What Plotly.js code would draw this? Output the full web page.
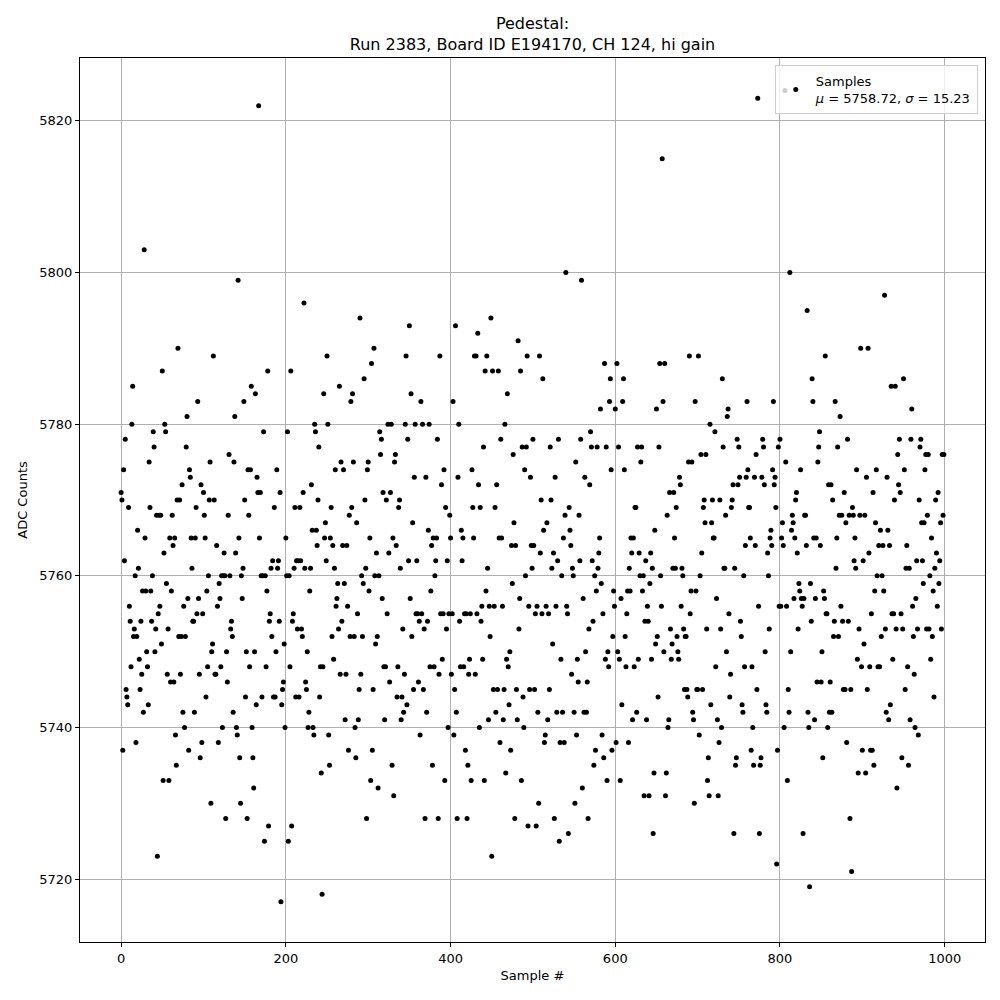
<!DOCTYPE html>
<html>
<head>
<meta charset="utf-8">
<script src="https://cdn.plot.ly/plotly-3.0.1.min.js"></script>
<style>html,body{margin:0;padding:0;background:#fff;}#chart{width:1000px;height:1000px;}</style>
</head>
<body>
<div id="chart"></div>
<script>
// ADC counts per sample, in chunks of 100 samples
const chunk0 = [5771,5770,5737,5774,5762,5778,5745,5744,5743,5769,
5756,5754,5748,5780,5785,5752,5753,5760,5738,5752,
5766,5761,5749,5745,5754,5747,5758,5742,5803,5765,
5758,5750,5748,5743,5775,5769,5758,5754,5760,5779,
5777,5750,5753,5768,5723,5755,5768,5756,5768,5751,
5787,5733,5763,5780,5779,5759,5747,5753,5733,5765,
5746,5758,5768,5764,5746,5765,5739,5735,5770,5790,
5752,5770,5747,5752,5772,5742,5756,5740,5752,5777,
5781,5757,5737,5774,5773,5765,5761,5754,5754,5742,
5765,5769,5755,5783,5757,5747,5736,5772,5738,5755];
const chunk1 = [5771,5768,5765,5744,5758,5748,5760,5770,5775,5730,
5750,5751,5789,5770,5747,5747,5764,5756,5738,5759,
5757,5748,5760,5740,5760,5763,5760,5728,5750,5746,
5768,5776,5760,5753,5754,5752,5742,5775,5781,5763,
5740,5739,5799,5765,5736,5730,5760,5757,5761,5783,
5770,5744,5750,5728,5774,5768,5748,5774,5785,5740,
5736,5732,5750,5784,5743,5773,5771,5822,5765,5771,
5760,5744,5760,5779,5725,5760,5748,5758,5787,5727,
5754,5755,5761,5752,5762,5744,5769,5744,5750,5774,
5761,5762,5754,5771,5717,5743,5745,5746,5751,5740];
const chunk2 = [5765,5760,5779,5725,5760,5748,5787,5727,5754,5755,
5761,5769,5744,5762,5753,5762,5744,5769,5762,5753,
5752,5771,5796,5761,5746,5745,5750,5740,5742,5758,
5761,5772,5766,5740,5739,5780,5779,5766,5764,5770,
5777,5744,5748,5734,5718,5748,5784,5765,5767,5762,
5789,5780,5739,5735,5765,5769,5752,5764,5749,5761,
5774,5756,5757,5759,5753,5785,5747,5775,5754,5764,
5774,5759,5741,5747,5764,5756,5737,5768,5752,5783,
5769,5784,5775,5752,5740,5736,5767,5755,5741,5745,
5794,5747,5760,5752,5759,5786,5770,5761,5728,5774];
const chunk3 = [5775,5758,5765,5733,5788,5737,5745,5790,5760,5751,
5763,5752,5732,5760,5779,5776,5778,5757,5771,5748,
5741,5748,5770,5755,5780,5763,5746,5771,5780,5735,
5765,5731,5775,5776,5764,5744,5748,5769,5770,5761,
5741,5744,5753,5742,5747,5780,5789,5743,5778,5762,
5793,5757,5784,5752,5767,5745,5773,5780,5755,5762,
5755,5746,5754,5739,5783,5755,5780,5745,5753,5728,
5773,5742,5754,5766,5780,5748,5758,5764,5735,5765,
5748,5760,5762,5765,5778,5728,5747,5789,5755,5772,
5749,5755,5774,5733,5769,5753,5762,5740,5755,5768];
const chunk4 = [5765,5747,5755,5783,5739,5745,5793,5742,5728,5773,
5780,5754,5748,5766,5762,5765,5748,5755,5737,5755,
5728,5735,5747,5749,5755,5733,5774,5769,5765,5789,
5747,5789,5755,5792,5772,5740,5769,5754,5756,5749,
5777,5733,5787,5758,5789,5761,5741,5756,5752,5794,
5723,5787,5745,5756,5769,5742,5772,5745,5787,5765,
5738,5778,5765,5756,5741,5745,5780,5734,5749,5784,
5748,5743,5750,5737,5764,5759,5776,5767,5728,5764,
5745,5741,5791,5753,5757,5787,5733,5777,5744,5740,
5774,5760,5777,5789,5727,5756,5745,5773,5764,5761];
const chunk5 = [5778,5764,5745,5755,5727,5756,5742,5730,5789,5763,
5770,5755,5786,5766,5738,5739,5756,5767,5741,5755,
5745,5777,5770,5761,5751,5763,5728,5773,5756,5742,
5762,5778,5725,5738,5749,5760,5742,5765,5738,5768,
5800,5756,5755,5726,5769,5766,5764,5747,5761,5760,
5742,5730,5775,5739,5749,5746,5768,5762,5778,5799,
5732,5757,5742,5773,5750,5742,5746,5728,5753,5772,
5779,5777,5762,5754,5735,5760,5737,5758,5777,5761,
5763,5765,5782,5759,5739,5755,5736,5788,5749,5777,
5733,5750,5748,5783,5786,5774,5737,5752,5758,5756];
const chunk6 = [5782,5738,5788,5750,5777,5749,5733,5757,5743,5783,
5786,5774,5752,5748,5755,5758,5738,5761,5758,5765,
5763,5741,5765,5748,5769,5769,5742,5777,5749,5763,
5760,5775,5777,5758,5760,5731,5754,5762,5741,5756,
5754,5731,5759,5763,5749,5761,5726,5734,5766,5751,
5782,5752,5744,5777,5788,5760,5756,5815,5783,5750,
5788,5731,5734,5768,5740,5741,5771,5753,5749,5751,
5761,5771,5765,5761,5769,5752,5750,5749,5773,5772,
5756,5761,5760,5753,5745,5752,5752,5745,5744,5775,
5789,5755,5758,5775,5742,5741,5730,5783,5758,5745];
const chunk7 = [5745,5789,5739,5760,5776,5763,5745,5769,5770,5767,
5776,5753,5733,5736,5731,5780,5743,5767,5770,5765,
5765,5779,5748,5757,5741,5731,5738,5770,5753,5740,
5786,5777,5761,5761,5768,5750,5781,5782,5755,5744,
5747,5769,5770,5772,5726,5761,5735,5736,5778,5772,
5777,5773,5754,5752,5743,5742,5760,5748,5764,5773,
5783,5774,5769,5769,5765,5737,5748,5740,5735,5773,
5764,5776,5745,5823,5756,5726,5735,5736,5773,5778,
5777,5772,5750,5743,5742,5763,5760,5753,5765,5766,
5764,5774,5783,5772,5773,5769,5722,5737,5777,5756];
const chunk8 = [5778,5756,5765,5767,5764,5740,5824,5775,5756,5733,
5745,5742,5800,5750,5766,5768,5767,5757,5765,5770,
5771,5763,5753,5759,5758,5774,5757,5756,5726,5757,
5768,5768,5764,5795,5742,5740,5719,5759,5754,5786,
5783,5765,5741,5757,5765,5746,5775,5777,5779,5764,
5746,5750,5736,5758,5757,5789,5755,5755,5740,5772,
5742,5746,5772,5742,5770,5752,5754,5783,5761,5765,
5777,5752,5768,5781,5756,5768,5754,5745,5771,5745,
5767,5738,5778,5754,5768,5728,5745,5721,5769,5768,
5762,5765,5761,5774,5749,5734,5753,5768,5790,5748];
const chunk9 = [5737,5762,5751,5768,5734,5773,5745,5790,5763,5748,
5737,5755,5737,5771,5735,5758,5767,5774,5760,5748,
5764,5748,5766,5752,5760,5764,5758,5797,5753,5742,
5773,5766,5741,5764,5743,5785,5755,5749,5755,5770,
5785,5753,5732,5776,5772,5778,5771,5755,5736,5753,
5786,5774,5745,5761,5764,5748,5735,5761,5741,5778,
5782,5756,5752,5747,5740,5757,5762,5753,5739,5770,
5777,5778,5767,5762,5759,5767,5774,5776,5753,5768,
5776,5753,5760,5749,5765,5752,5758,5744,5761,5770,
5763,5756,5771,5759,5762,5767,5753,5776,5768,5776];

const adcCounts = [].concat(chunk0, chunk1, chunk2, chunk3, chunk4, chunk5, chunk6, chunk7, chunk8, chunk9);
const sampleIndex = adcCounts.map((_, i) => i);

const xTicks = [0, 200, 400, 600, 800, 1000];
const yTicks = [5720, 5740, 5760, 5780, 5800, 5820];
const legendLabel = 'Samples<br><i>μ</i> = 5758.72, <i>σ</i> = 15.23';
const titleText = 'Pedestal:<br>Run 2383, Board ID E194170, CH 124, hi gain';

const font = 'DejaVu Sans, sans-serif';

const trace = {
  x: sampleIndex,
  y: adcCounts,
  type: 'scatter',
  mode: 'markers',
  name: legendLabel,
  marker: {color: '#000000', size: 5, line: {width: 0}},
  hoverinfo: 'x+y'
};

const axisCommon = {
  showline: true, mirror: true, linecolor: '#000000', linewidth: 1,
  ticks: 'outside', ticklen: 4, tickwidth: 1, tickcolor: '#000000',
  showgrid: true, gridcolor: '#b0b0b0', gridwidth: 1,
  zeroline: false,
  tickfont: {family: font, size: 13, color: '#000000'}
};

const layout = {
  width: 1000, height: 1000,
  paper_bgcolor: '#ffffff', plot_bgcolor: '#ffffff',
  margin: {l: 80, r: 15, t: 58, b: 58, pad: 0},
  font: {family: font, color: '#000000'},
  title: {
    text: titleText,
    font: {family: font, size: 16, color: '#000000'},
    x: 0.5, xref: 'paper', xanchor: 'center',
    y: 0.971, yref: 'container', yanchor: 'top'
  },
  xaxis: Object.assign({}, axisCommon, {
    range: [-49.95, 1048.95],
    tickvals: xTicks,
    ticktext: xTicks.map(String),
    title: {text: 'Sample #', font: {family: font, size: 13, color: '#000000'}, standoff: 6}
  }),
  yaxis: Object.assign({}, axisCommon, {
    range: [5711.7, 5828.3],
    tickvals: yTicks,
    ticktext: yTicks.map(String),
    title: {text: 'ADC Counts', font: {family: font, size: 13, color: '#000000'}, standoff: 8}
  }),
  showlegend: true,
  legend: {
    x: 0.992, xanchor: 'right', xref: 'paper',
    y: 0.992, yanchor: 'top', yref: 'paper',
    bgcolor: 'rgba(255,255,255,0.8)',
    bordercolor: '#cccccc', borderwidth: 1,
    font: {family: font, size: 13, color: '#000000'},
    itemsizing: 'trace'
  }
};

Plotly.newPlot('chart', [trace], layout, {displayModeBar: false, staticPlot: true});
</script>
</body>
</html>
